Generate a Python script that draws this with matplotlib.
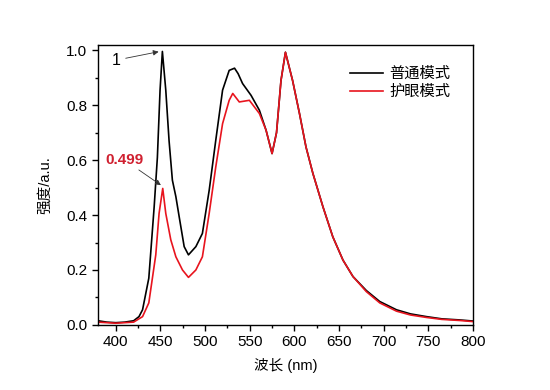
import matplotlib
matplotlib.use('Agg')
import matplotlib.pyplot as plt
from matplotlib.ticker import MultipleLocator

plt.rcParams['font.family'] = ['Liberation Sans', 'Noto Sans CJK SC']

# wavelength (nm) and intensity
wl_normal = [380, 390, 400, 410, 420, 426, 430, 437, 443, 446.6, 449.6, 452.2,
             456, 459.7, 463.4, 467.3, 471, 476.6, 481.4, 489.7, 497, 504.6,
             512, 519.6, 527, 533, 537, 542, 551.5, 560.8, 568.3, 575, 580,
             585, 590, 598, 605.7, 613, 620.7, 632, 643, 654.4, 665.6, 680.6,
             695.6, 714.3, 730, 748, 765, 785, 800]
int_normal = [0.015, 0.01, 0.008, 0.01, 0.015, 0.03, 0.055, 0.17, 0.43, 0.61,
              0.855, 0.996, 0.855, 0.67, 0.527, 0.467, 0.394, 0.285, 0.255,
              0.285, 0.333, 0.49, 0.673, 0.855, 0.927, 0.935, 0.915, 0.879,
              0.836, 0.782, 0.709, 0.624, 0.70, 0.89, 0.993, 0.89, 0.77,
              0.648, 0.552, 0.43, 0.321, 0.236, 0.176, 0.125, 0.085, 0.055,
              0.04, 0.03, 0.022, 0.018, 0.014]

wl_eye = [380, 390, 400, 410, 420, 430, 437, 444.8, 448.5, 452.6, 456, 461.6,
          467.3, 474.7, 481.4, 489.7, 497, 504.6, 512, 519.6, 527, 531,
          538.3, 549.6, 560.8, 568.3, 575, 580, 585, 590, 598, 605.7, 613,
          620.7, 632, 643, 654.4, 665.6, 680.6, 695.6, 714.3, 730, 748, 765,
          785, 800]
int_eye = [0.01, 0.008, 0.006, 0.008, 0.01, 0.03, 0.08, 0.255, 0.406, 0.497,
           0.406, 0.31, 0.248, 0.2, 0.173, 0.2, 0.248, 0.406, 0.576, 0.733,
           0.818, 0.843, 0.812, 0.818, 0.77, 0.709, 0.624, 0.70, 0.89, 0.993,
           0.89, 0.77, 0.648, 0.552, 0.43, 0.321, 0.236, 0.176, 0.121, 0.08,
           0.05, 0.036, 0.027, 0.02, 0.016, 0.012]

fig = plt.figure(figsize=(5.5, 3.9), dpi=100)
ax = fig.add_axes([0.178, 0.167, 0.682, 0.718])

ax.plot(wl_normal, int_normal, color='black', lw=1.2, label='普通模式')
ax.plot(wl_eye, int_eye, color='#e8141e', lw=1.2, label='护眼模式')

ax.set_xlim(380, 800)
ax.set_ylim(0, 1.02)
ax.xaxis.set_major_locator(MultipleLocator(50))
ax.xaxis.set_minor_locator(MultipleLocator(25))
ax.yaxis.set_major_locator(MultipleLocator(0.2))
ax.yaxis.set_minor_locator(MultipleLocator(0.1))
ax.tick_params(which='major', direction='out', length=4, width=1, labelsize=11)
ax.tick_params(which='minor', direction='out', length=2.5, width=1)
ax.yaxis.set_major_formatter(plt.FormatStrFormatter('%.1f'))
for s in ax.spines.values():
    s.set_linewidth(1.0)

ax.set_xlabel('波长 (nm)', fontsize=10.5, labelpad=6)
ax.set_ylabel('强度/a.u.', fontsize=10.5, labelpad=10)

# peak annotations
ax.annotate('1', xy=(448, 0.995), xytext=(400, 0.964), fontsize=11.5,
            ha='center', va='center',
            arrowprops=dict(arrowstyle='-|>', color='#333333', lw=0.6,
                            mutation_scale=8, shrinkA=2, shrinkB=0))
ax.annotate('0.499', xy=(450.5, 0.509), xytext=(410, 0.6), fontsize=11,
            color='#d02030', fontweight='bold', ha='center', va='center',
            arrowprops=dict(arrowstyle='-|>', color='#333333', lw=0.6,
                            mutation_scale=8, shrinkA=0, shrinkB=0))

ax.legend(loc='upper left', bbox_to_anchor=(0.635, 0.97), frameon=False,
          fontsize=11, handlelength=2.2, handletextpad=0.4, labelspacing=0.25)

fig.savefig('out.png', dpi=100)
